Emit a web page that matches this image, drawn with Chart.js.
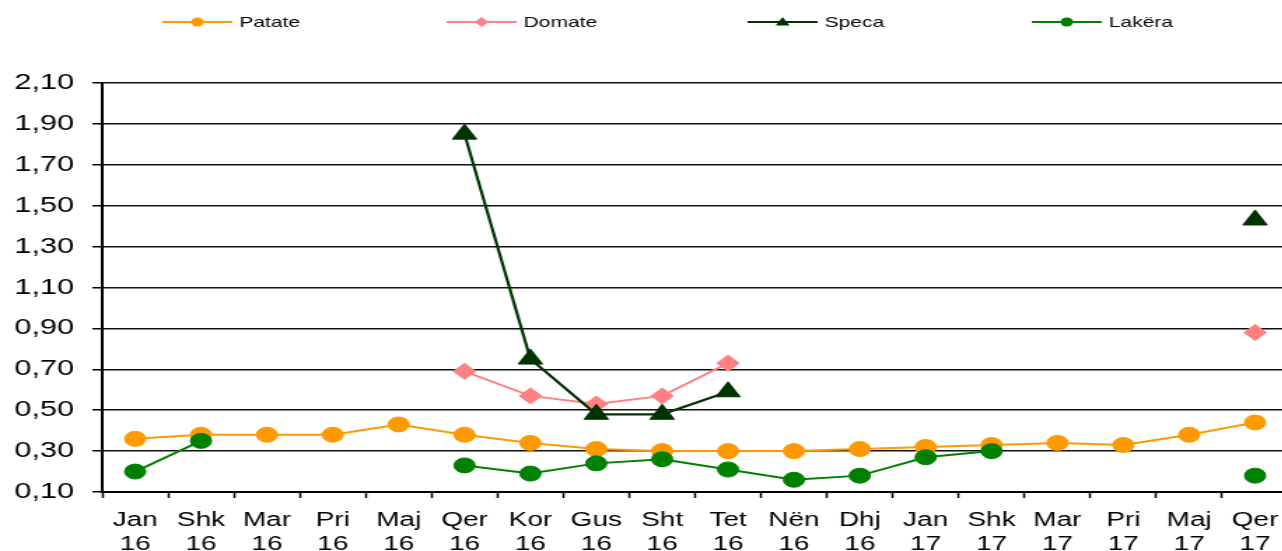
<!DOCTYPE html>
<html>
<head>
<meta charset="utf-8">
<script src="https://cdn.jsdelivr.net/npm/chart.js@4.4.1/dist/chart.umd.min.js"></script>
<style>
  html, body { margin: 0; padding: 0; background: #fff; overflow: hidden; }
  /* the original is an Excel chart stretched sideways, so draw narrow and widen */
  #wrap { width: 931px; height: 551px; transform: scaleX(1.4); transform-origin: 0 0; }
</style>
</head>
<body>
<div id="wrap"><canvas id="myChart"></canvas></div>
<script>
const months = ['Jan','Shk','Mar','Pri','Maj','Qer','Kor','Gus','Sht','Tet','Nën','Dhj','Jan','Shk','Mar','Pri','Maj','Qer'];
const years  = ['16','16','16','16','16','16','16','16','16','16','16','16','17','17','17','17','17','17'];

const patate = [0.36, 0.38, 0.38, 0.38, 0.43, 0.38, 0.34, 0.31, 0.30, 0.30, 0.30, 0.31, 0.32, 0.33, 0.34, 0.33, 0.38, 0.44];
const domate = [null, null, null, null, null, 0.69, 0.57, 0.53, 0.57, 0.73, null, null, null, null, null, null, null, 0.88];
const speca  = [null, null, null, null, null, 1.85, 0.75, 0.48, 0.48, 0.59, null, null, null, null, null, null, null, 1.43];
const lakera = [0.20, 0.35, null, null, null, 0.23, 0.19, 0.24, 0.26, 0.21, 0.16, 0.18, 0.27, 0.30, null, null, null, 0.18];

const yTicks = [0.10, 0.30, 0.50, 0.70, 0.90, 1.10, 1.30, 1.50, 1.70, 1.90, 2.10];

const FONT = "'Liberation Sans', Arial, sans-serif";

// legend drawn by hand: line with marker in the middle, like Excel
const legendItems = [
  { text: 'Patate', color: '#FF9900', shape: 'circle',   x: 116 },
  { text: 'Domate', color: '#FF8080', shape: 'rectRot',  x: 319 },
  { text: 'Speca',  color: '#003300', shape: 'triangle', x: 534 },
  { text: 'Lakëra', color: '#008000', shape: 'circle',   x: 737 }
];

const legendPlugin = {
  id: 'excelLegend',
  afterDraw(chart) {
    const ctx = chart.ctx;
    const y = 22;
    ctx.save();
    legendItems.forEach(it => {
      ctx.strokeStyle = it.color;
      ctx.fillStyle = it.color;
      ctx.lineWidth = 2;
      ctx.beginPath();
      ctx.moveTo(it.x, y);
      ctx.lineTo(it.x + 50, y);
      ctx.stroke();
      const cx = it.x + 25;
      ctx.beginPath();
      if (it.shape == 'circle') {
        ctx.arc(cx, y, 4.5, 0, Math.PI * 2);
      } else if (it.shape == 'rectRot') {
        ctx.moveTo(cx, y - 5); ctx.lineTo(cx + 5, y); ctx.lineTo(cx, y + 5); ctx.lineTo(cx - 5, y);
      } else {
        ctx.moveTo(cx, y - 5); ctx.lineTo(cx + 5, y + 3.5); ctx.lineTo(cx - 5, y + 3.5);
      }
      ctx.closePath();
      ctx.fill();
      ctx.fillStyle = '#000';
      ctx.font = '15px ' + FONT;
      ctx.textBaseline = 'middle';
      ctx.textAlign = 'left';
      ctx.fillText(it.text, it.x + 55, y + 1);
    });
    ctx.restore();
  }
};

function series(label, data, color, style, radius, order, width) {
  return {
    label: label,
    data: data,
    borderColor: color,
    backgroundColor: color,
    pointBackgroundColor: color,
    pointBorderColor: color,
    pointBorderWidth: 1,
    pointStyle: style,
    pointRadius: radius,
    pointHoverRadius: radius,
    borderWidth: width,
    spanGaps: false,
    tension: 0,
    order: order
  };
}

const ctx = document.getElementById('myChart').getContext('2d');
const myChart = new Chart(ctx, {
  type: 'line',
  data: {
    labels: months.map((m, i) => [m, years[i]]),
    datasets: [
      series('Patate', patate, '#FF9900', 'circle', 7.5, 3, 2),
      series('Domate', domate, '#FF8080', 'rectRot', 8, 2, 2),
      series('Speca', speca, '#003300', 'triangle', 10, 1, 2.2),
      series('Lakëra', lakera, '#008000', 'circle', 7.5, 0, 2)
    ]
  },
  options: {
    responsive: true,
    maintainAspectRatio: false,
    animation: false,
    layout: { padding: { top: 83, left: 0, right: 0, bottom: 0 } },
    plugins: {
      legend: { display: false },
      tooltip: { enabled: false },
      title: { display: false }
    },
    scales: {
      x: {
        offset: true,
        afterFit: s => { s.height = 59; },
        grid: {
          offset: true,
          drawOnChartArea: false,
          drawTicks: true,
          tickLength: 6,
          tickColor: '#000',
          tickWidth: 1.5
        },
        border: { display: true, color: '#000', width: 2 },
        ticks: {
          color: '#000',
          padding: 10,
          maxRotation: 0,
          autoSkip: false,
          font: { family: FONT, size: 20, lineHeight: 1.2 }
        }
      },
      y: {
        min: 0.1,
        max: 2.1,
        afterFit: s => { s.width = 73; },
        afterBuildTicks: s => { s.ticks = yTicks.map(v => ({ value: v })); },
        grid: {
          color: '#111',
          lineWidth: 1.5,
          drawTicks: true,
          tickLength: 7,
          tickColor: '#000'
        },
        border: { display: true, color: '#000', width: 2 },
        ticks: {
          color: '#000',
          padding: 13,
          font: { family: FONT, size: 22 },
          callback: v => v.toFixed(2).replace('.', ',')
        }
      }
    }
  },
  plugins: [legendPlugin]
});
</script>
</body>
</html>
